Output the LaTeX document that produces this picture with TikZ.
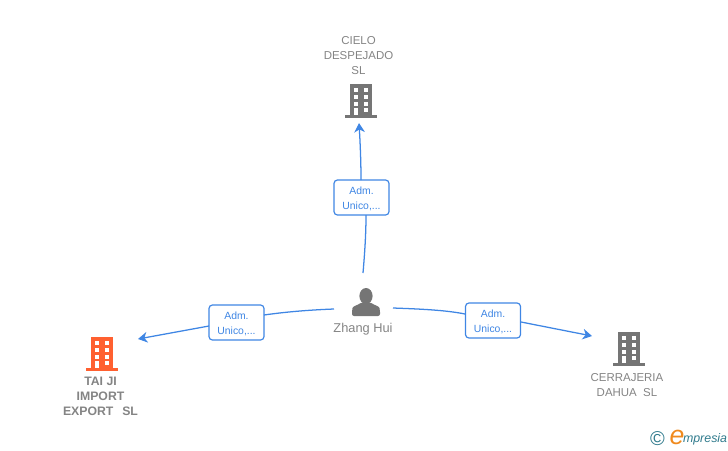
\documentclass[tikz,border=0pt]{standalone}
\usepackage{fontspec}
\setmainfont{Liberation Sans}
\usetikzlibrary{arrows.meta}
\definecolor{lbl}{HTML}{848484}
\definecolor{bld}{HTML}{757575}
\definecolor{acc}{HTML}{FF6030}
\definecolor{lnk}{HTML}{3F86E4}
\definecolor{teal}{HTML}{2F7A8C}
\definecolor{logoor}{HTML}{F08A1E}
\newcommand{\rolelabel}{\rule{0pt}{7.6pt}Adm.\\Unico,...}
\tikzset{
  px/.style={x=0.75pt,y=-0.75pt},
  conn/.style={lnk,line width=0.95pt},
  arr/.style={conn,-{Stealth[length=7pt,width=8pt,inset=2.2pt]}},
  rolebox/.style={draw=lnk,line width=0.9pt,rounded corners=2.5pt,fill=white,minimum width=41.2pt,minimum height=26.2pt,inner sep=0pt,align=center,text=lnk,font=\fontsize{7.8pt}{11.25pt}\selectfont},
  entlabel/.style={text=lbl,align=center,inner sep=0pt,font=\fontsize{8.6pt}{11.25pt}\selectfont},
  anchorbox/.style={inner sep=0pt,minimum size=0pt,outer sep=0pt},
  pics/bldg/.style={code={
    \fill[#1] (-11,-16) rectangle (11,15);
    \fill[#1] (-16,14.7) rectangle (16,17.7);
    \foreach \yy in {-12,-5,1.5}{
      \fill[white] (-7,\yy) rectangle (-2.7,\yy+4.2);
      \fill[white] (2.8,\yy) rectangle (7.2,\yy+4.2);}
    \fill[white] (2.8,7.8) rectangle (7.2,12.2);
    \fill[white] (-7,7.8) rectangle (-2.7,15);
  }}
}
\begin{document}
\begin{tikzpicture}[px]
\useasboundingbox (0,0) rectangle (728,450);
% buildings
\pic at (361,100) {bldg=bld};
\pic at (102,353) {bldg=acc};
\pic at (629,348) {bldg=bld};
% person
\fill[bld] (366,296) ellipse (6.6 and 8);
\fill[bld,rounded corners=1.5pt] (352,316) -- (352,310) .. controls (353,306) and (358,305) .. (362,302) -- (370,302) .. controls (374,305) and (379,306) .. (380,310) -- (380,316) -- cycle;
% labels
\node[entlabel] (top) at (358.5,55.5) {CIELO\\DESPEJADO\\SL};
\node[entlabel,font=\fontsize{9.2pt}{11.25pt}\selectfont\bfseries] (left) at (100.5,396.5) {TAI JI\\IMPORT\\EXPORT\ \ \,SL};
\node[entlabel] (right) at (627,385) {CERRAJERIA\\DAHUA\ \ SL};
\node[entlabel,font=\fontsize{9.6pt}{11pt}\selectfont] (zh) at (363,329) {Zhang Hui};
% link boxes
\node[rolebox] (bt) at (361.5,197.5) {\rolelabel};
\node[rolebox] (bl) at (236.5,322.5) {\rolelabel};
\node[rolebox] (br) at (493,320.5) {\rolelabel};
% ends
\coordinate (ct0) at (363,273);
\coordinate (ct1) at (359,123);
\coordinate (cl0) at (334,309);
\coordinate (cl1) at (138,339);
\coordinate (cr0) at (393,308);
\coordinate (cr1) at (592,336);
\coordinate (btb) at (366,215);
\coordinate (btt) at (361,180);
\coordinate (ble) at (264,315);
\coordinate (blw) at (209,326);
\coordinate (brw) at (465,314);
\coordinate (bre) at (521,322);
\draw[conn] (ct0) .. controls (365,250) and (366,232) .. (btb);
\draw[arr] (btt) .. controls (361,160) and (360,140) .. (ct1);
\draw[conn] (cl0) .. controls (308,310) and (285,312) .. (ble);
\draw[arr] (blw) -- (cl1);
\draw[conn] (cr0) .. controls (420,309) and (445,310) .. (brw);
\draw[arr] (bre) -- (cr1);
% logo
\node[anchorbox,text=teal,font=\fontsize{15pt}{15pt}\selectfont] (c) at (657.5,439) {©};
\node[anchorbox,text=logoor,font=\fontsize{20pt}{20pt}\selectfont\itshape] (e) at (677,437) {e};
\node[anchorbox,text=teal,anchor=west,font=\fontsize{9.3pt}{10pt}\selectfont\itshape] (m) at (683,439.5) {mpresia};
\end{tikzpicture}
\end{document}
